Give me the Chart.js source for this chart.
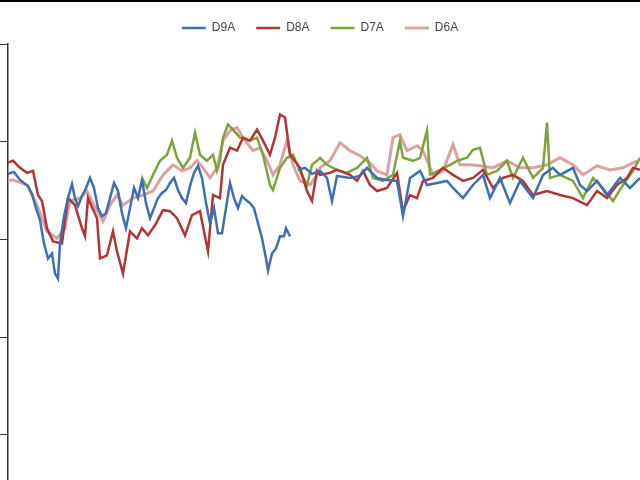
<!DOCTYPE html>
<html><head><meta charset="utf-8">
<script src="https://cdn.jsdelivr.net/npm/chart.js@4/dist/chart.umd.min.js"></script>
<style>html,body{margin:0;padding:0;background:#fff}#c{display:block}</style>
</head><body><canvas id="c" width="640" height="480"></canvas>
<script>
const seriesNames = ["D9A","D8A","D7A","D6A"];
const tickValues = [47,144,241,338,435];
const d9a = [[2,171],[8,176],[14,174],[20,182],[28,188],[32,196],[36,210],[40,222],[44,245],[48,260],[52,255],[55,275],[58,280],[60,245],[64,218],[68,200],[72,186],[75,200],[78,208],[82,198],[86,190],[90,180],[94,190],[98,210],[102,218],[106,215],[110,200],[114,185],[118,193],[122,215],[126,230],[130,210],[134,190],[138,200],[142,182],[146,205],[150,220],[154,210],[158,200],[162,195],[166,192],[170,185],[174,180],[178,192],[182,200],[186,205],[190,188],[194,175],[198,168],[202,180],[206,205],[210,225],[214,210],[218,235],[222,235],[226,210],[230,185],[234,200],[238,210],[242,198],[246,202],[250,205],[254,210],[258,225],[262,240],[266,260],[268,272],[272,255],[276,250],[280,238],[284,238],[286,230],[290,238],[291,null],[298,172],[305,170],[312,176],[320,173],[327,180],[332,203],[337,178],[350,180],[360,178],[367,170],[377,180],[387,182],[397,183],[403,218],[410,180],[420,173],[427,187],[437,185],[447,183],[453,190],[463,200],[473,187],[483,177],[490,200],[500,180],[510,205],[520,183],[533,200],[543,177],[553,170],[560,177],[573,170],[580,187],[587,193],[597,183],[607,197],[620,180],[630,190],[640,180]];
const d8a = [[2,163],[7,165],[13,163],[20,170],[27,175],[33,173],[38,197],[42,203],[47,230],[53,243],[62,245],[68,200],[75,207],[82,230],[85,238],[88,200],[97,220],[100,260],[107,257],[113,233],[117,253],[123,275],[130,233],[137,240],[142,230],[148,237],[155,227],[163,212],[170,213],[177,220],[185,237],[192,217],[200,213],[208,253],[213,197],[220,200],[223,167],[230,150],[237,153],[243,140],[250,143],[257,132],[263,143],[270,157],[275,140],[280,117],[285,120],[290,157],[300,170],[307,193],[312,203],[317,173],[320,177],[330,175],[337,172],[350,177],[357,183],[363,173],[370,187],[377,193],[387,190],[397,175],[403,213],[410,197],[417,200],[423,183],[433,180],[443,170],[453,177],[463,183],[473,180],[483,172],[493,190],[503,180],[513,177],[523,183],[533,197],[547,193],[560,197],[573,200],[587,207],[597,193],[607,200],[617,187],[627,180],[633,170],[640,172]];
const d7a = [[142,180],[147,190],[153,177],[160,163],[167,157],[172,143],[177,160],[183,170],[190,160],[195,135],[200,157],[207,163],[213,157],[217,173],[220,163],[223,140],[228,127],[233,132],[240,140],[250,143],[257,140],[263,157],[270,187],[273,192],[280,170],[287,160],[293,157],[300,173],[307,187],[312,167],[317,163],[320,160],[327,167],[337,172],[347,175],[357,170],[367,160],[373,180],[383,183],[393,177],[400,143],[403,160],[413,163],[420,160],[427,133],[430,177],[440,172],[450,167],[457,163],[467,160],[473,152],[480,150],[487,177],[497,173],[507,163],[513,180],[523,160],[533,180],[543,170],[547,125],[550,180],[560,177],[573,183],[583,200],[593,180],[603,190],[613,203],[623,187],[633,173],[640,160]];
const d6a = [[2,183],[13,182],[27,187],[37,207],[47,233],[57,240],[65,230],[70,203],[80,200],[87,193],[97,213],[103,223],[110,207],[117,197],[123,207],[133,200],[143,197],[153,193],[163,177],[173,167],[182,173],[190,170],[197,163],[203,170],[210,180],[217,170],[223,143],[230,133],[237,130],[243,140],[253,153],[260,150],[267,163],[273,177],[280,167],[287,143],[293,167],[300,183],[310,187],[317,177],[320,170],[330,163],[340,145],[350,153],[360,158],[370,165],[377,173],[387,177],[393,140],[400,137],[407,153],[417,148],[423,153],[433,177],[443,173],[453,147],[460,167],[470,167],[480,168],[493,170],[507,163],[520,170],[533,170],[547,167],[560,160],[573,167],[583,177],[597,168],[610,172],[623,170],[637,163]];
const colors = ["#3d6fb4","#b23535","#7da33c","#dea0a0"];
const all = [d9a,d8a,d7a,d6a];
const topLine = {id:'topLine',afterDraw(c){const x=c.ctx;x.save();x.fillStyle='#000';x.fillRect(0,0,640,2);x.restore();}};
new Chart(document.getElementById('c'),{
  type:'line',
  data:{datasets:all.map((s,i)=>({label:seriesNames[i],data:s.map(p=>({x:p[0],y:p[1]})),borderColor:colors[i],backgroundColor:colors[i],borderWidth:i===3?3:2.5,pointRadius:0,tension:0,spanGaps:false,order:i===3?5:i}))},
  options:{responsive:false,animation:false,
    layout:{padding:{top:1,left:0,right:0,bottom:0}},
    plugins:{legend:{position:'top',labels:{usePointStyle:true,pointStyle:'line',pointStyleWidth:24,boxWidth:24,font:{family:'Liberation Sans',size:12},color:'#444',padding:21}},tooltip:{enabled:false}},
    scales:{
      x:{type:'linear',min:8,max:640,display:false},
      y:{reverse:true,min:47,max:480,afterBuildTicks(a){a.ticks=tickValues.map(v=>({value:v}));},
         ticks:{display:false},border:{color:'#333',width:1.5},
         grid:{drawOnChartArea:false,drawTicks:true,tickLength:8,color:'#333'}}
    }},
  plugins:[topLine]
});
</script></body></html>
